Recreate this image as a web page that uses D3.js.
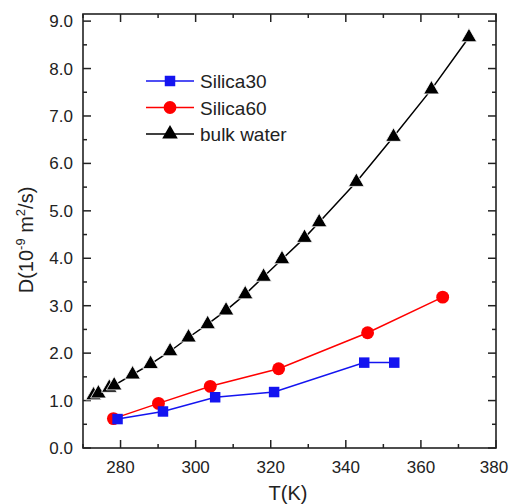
<!DOCTYPE html>
<html>
<head>
<meta charset="utf-8">
<script src="https://cdn.jsdelivr.net/npm/d3@7"></script>
<style>
  html, body { margin: 0; padding: 0; background: #fff; }
  svg text { font-family: Arial, "Liberation Sans", sans-serif; fill: #222; }
</style>
</head>
<body>
<div id="chart"></div>
<script>
// Diffusion coefficient vs temperature: confined (silica) vs bulk water.
var silica30T = [279.2, 291.3, 305.2, 320.9, 344.9, 352.9];
var silica30D = [0.61, 0.77, 1.07, 1.18, 1.80, 1.80];

var silica60T = [278.1, 290.1, 303.9, 322.1, 345.8, 365.8];
var silica60D = [0.62, 0.94, 1.30, 1.67, 2.43, 3.18];

var bulkT = [272.8, 274.1, 277.0, 278.3, 283.2, 288.0, 293.2, 298.1, 303.2, 308.1,
             313.2, 318.1, 323.0, 329.0, 332.9, 342.8, 352.7, 362.8, 372.8];
var bulkD = [1.11, 1.15, 1.27, 1.32, 1.55, 1.77, 2.04, 2.33, 2.61, 2.90,
             3.24, 3.61, 3.98, 4.43, 4.76, 5.61, 6.56, 7.56, 8.66];

var seriesNames = ["Silica30", "Silica60", "bulk water"];
var xTicks = [280, 300, 320, 340, 360, 380];
var yTicks = [0, 1, 2, 3, 4, 5, 6, 7, 8, 9];

(function () {
  var width = 509, height = 504;
  var margin = { top: 14, right: 13, bottom: 56, left: 83 };

  var svg = d3.select("#chart").append("svg")
    .attr("width", width)
    .attr("height", height);

  var x = d3.scaleLinear().domain([270, 380]).range([margin.left, width - margin.right]);
  var y = d3.scaleLinear().domain([0, 9.15]).range([height - margin.bottom, margin.top]);

  var minorX = d3.range(270, 381, 10);
  var minorY = d3.range(0, 9.1, 0.5);

  var g = svg.append("g");

  // inward ticks on all four sides
  function ticks(side, values, len) {
    g.append("g").selectAll("line").data(values).join("line")
      .attr("x1", function (d) { return side === "bottom" || side === "top" ? x(d) : (side === "left" ? x.range()[0] : x.range()[1]); })
      .attr("x2", function (d) { return side === "bottom" || side === "top" ? x(d) : (side === "left" ? x.range()[0] + len : x.range()[1] - len); })
      .attr("y1", function (d) { return side === "left" || side === "right" ? y(d) : (side === "bottom" ? y.range()[0] : y.range()[1]); })
      .attr("y2", function (d) { return side === "left" || side === "right" ? y(d) : (side === "bottom" ? y.range()[0] - len : y.range()[1] + len); })
      .attr("stroke", "#222")
      .attr("stroke-width", 1.5);
  }
  ["bottom", "top"].forEach(function (s) {
    ticks(s, minorX.filter(function (v) { return v % 20 !== 0; }), 4);
    ticks(s, xTicks, 8);
  });
  ["left", "right"].forEach(function (s) {
    ticks(s, minorY.filter(function (v) { return v % 1 !== 0; }), 4);
    ticks(s, yTicks, 8);
  });

  g.append("rect")
    .attr("x", x.range()[0]).attr("y", y.range()[1])
    .attr("width", x.range()[1] - x.range()[0])
    .attr("height", y.range()[0] - y.range()[1])
    .attr("fill", "none").attr("stroke", "#222").attr("stroke-width", 1.6);

  g.append("g").selectAll("text").data(xTicks).join("text")
    .attr("x", function (d) { return Math.min(x(d), width - 15); })
    .attr("y", 473)
    .attr("text-anchor", "middle")
    .attr("font-size", 17)
    .text(function (d) { return d; });

  g.append("g").selectAll("text").data(yTicks).join("text")
    .attr("x", 73)
    .attr("y", function (d) { return y(d) + 6; })
    .attr("text-anchor", "end")
    .attr("font-size", 17)
    .text(function (d) { return d.toFixed(1); });

  svg.append("text")
    .attr("x", 288).attr("y", 500)
    .attr("text-anchor", "middle")
    .attr("font-size", 20)
    .text("T(K)");

  var yLabel = svg.append("text")
    .attr("transform", "translate(33,240) rotate(-90)")
    .attr("text-anchor", "middle")
    .attr("font-size", 20);
  yLabel.append("tspan").text("D(10");
  yLabel.append("tspan").attr("dy", -8).attr("font-size", 13).text("-9");
  yLabel.append("tspan").attr("dy", 8).text(" m");
  yLabel.append("tspan").attr("dy", -8).attr("font-size", 13).text("2");
  yLabel.append("tspan").attr("dy", 8).text("/s)");

  var series = [
    { name: seriesNames[0], T: silica30T, D: silica30D, color: "#1414f0", shape: d3.symbolSquare, size: 110 },
    { name: seriesNames[1], T: silica60T, D: silica60D, color: "#ff0000", shape: d3.symbolCircle, size: 130 },
    { name: seriesNames[2], T: bulkT, D: bulkD, color: "#000000", shape: d3.symbolTriangle, size: 105 }
  ];

  var line = d3.line()
    .x(function (d) { return x(d[0]); })
    .y(function (d) { return y(d[1]); });

  // draw in reverse so blue lies on top
  series.slice().reverse().forEach(function (s) {
    var pts = s.T.map(function (t, i) { return [t, s.D[i]]; });
    g.append("path")
      .attr("d", line(pts))
      .attr("fill", "none")
      .attr("stroke", s.color)
      .attr("stroke-width", 1.5);
    g.append("g").selectAll("path").data(pts).join("path")
      .attr("transform", function (d) { return "translate(" + x(d[0]) + "," + y(d[1]) + ")"; })
      .attr("d", d3.symbol().type(s.shape).size(s.size))
      .attr("fill", s.color)
      .attr("stroke", s.name === "bulk water" ? "#fff" : "none")
      .attr("stroke-width", 0.8);
  });

  // legend
  var legend = svg.append("g");
  series.forEach(function (s, i) {
    var ly = 81 + i * 26.5;
    legend.append("line")
      .attr("x1", 146).attr("x2", 194)
      .attr("y1", ly).attr("y2", ly)
      .attr("stroke", s.color).attr("stroke-width", 1.5);
    legend.append("path")
      .attr("transform", "translate(170," + ly + ")")
      .attr("d", d3.symbol().type(s.shape).size(s.size))
      .attr("fill", s.color);
    legend.append("text")
      .attr("x", 200).attr("y", ly + 7)
      .attr("font-size", 19)
      .text(s.name);
  });
})();
</script>
</body>
</html>
